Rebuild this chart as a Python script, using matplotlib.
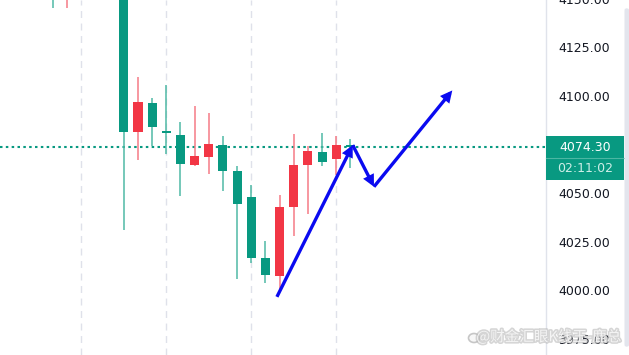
import matplotlib
matplotlib.use("Agg")
import matplotlib.pyplot as plt
import matplotlib.patheffects as pe
from matplotlib.patches import Rectangle, FancyBboxPatch, FancyArrowPatch, Ellipse
import numpy as np

plt.rcParams['font.family'] = ['DejaVu Sans', 'Noto Sans CJK SC']

# ---------------- data ----------------
bar_index = list(range(-5, 17))
opens  = [4170.0, 4150.0, 4160.0, 4168.0, 4162.0, 4165.0, 4082.2, 4097.3, 4082.7, 4080.8, 4065.0,
          4069.5, 4075.4, 4062.0, 4048.8, 4017.2, 4008.1, 4043.4, 4065.0, 4072.1, 4068.3, 4075.0]
highs  = [4175.0, 4168.0, 4172.0, 4178.0, 4170.0, 4168.0, 4110.6, 4099.5, 4106.2, 4087.5, 4095.3,
          4091.8, 4080.3, 4064.6, 4054.7, 4025.9, 4050.0, 4081.3, 4075.1, 4081.8, 4080.2, 4078.4]
lows   = [4145.9, 4146.0, 4152.0, 4158.0, 4155.0, 4031.8, 4068.0, 4074.7, 4070.7, 4049.1, 4064.5,
          4060.3, 4051.7, 4006.4, 4015.0, 4004.4, 4001.0, 4028.8, 4040.2, 4064.5, 4060.0, 4063.8]
closes = [4150.0, 4165.0, 4168.0, 4162.0, 4165.0, 4082.3, 4097.6, 4084.7, 4081.5, 4065.5, 4069.8,
          4075.9, 4062.1, 4045.3, 4017.3, 4008.4, 4043.8, 4065.3, 4072.2, 4066.8, 4075.3, 4074.3]

last_price = 4074.30
countdown = "02:11:02"
y_ticks = [3975, 4000, 4025, 4050, 4100, 4125, 4150]
time_grid = [-3, 3, 9, 15]

# hand-drawn zigzag arrow path (bar index, price)
arrow_x = [10.81, 16.16, 17.66, 23.19]
arrow_y = [3997.4, 4075.4, 4054.0, 4103.5]

watermark = "@财金汇眼K线王-鹿总"

# ---------------- style ----------------
UP = '#f23645'      # red = rising
DOWN = '#089981'    # green = falling
UP_WICK = '#f57b86'
DOWN_WICK = '#4fb9a5'
W, H = 629, 355
DPI = 100
Y_TOP, Y_BOT = 4147.0, 3967.5

fig = plt.figure(figsize=(W / DPI, H / DPI), dpi=DPI)
fig.patch.set_facecolor('white')
ax_right = 545.5
ax = fig.add_axes([0, 0, ax_right / W, 1])
ax.set_facecolor('white')
ax.set_xlim(-8.74, 29.77)
ax.set_ylim(Y_BOT, Y_TOP)

for s in ['top', 'left', 'bottom']:
    ax.spines[s].set_visible(False)
ax.spines['right'].set_color('#e0e3eb')
ax.spines['right'].set_linewidth(1)

ax.yaxis.tick_right()
ax.set_yticks(y_ticks)
ax.set_yticklabels([f"{v:.2f}" for v in y_ticks], fontsize=9, color='#131722')
ax.tick_params(axis='y', length=0, pad=9)
for lab in ax.get_yticklabels():
    lab.set_verticalalignment('center')
ax.set_xticks([])

# vertical time grid
for g in time_grid:
    ax.axvline(g, color='#dfe1ea', lw=1, linestyle=(0, (5, 4)), zorder=0)

# candles
body_w = 0.64
for i, o, h, l, c in zip(bar_index, opens, highs, lows, closes):
    up = c >= o
    col = UP if up else DOWN
    wcol = UP_WICK if up else DOWN_WICK
    ax.vlines(i, l, h, color=wcol, lw=1.1, zorder=2)
    bot = min(o, c)
    ht = max(abs(c - o), 1.0)
    ax.bar(i, ht, bottom=bot, width=body_w, color=col, edgecolor='none', zorder=3)

# last price dotted line
ax.axhline(last_price, color=DOWN, lw=1.5, linestyle=(0, (1.2, 1.6)), zorder=1)

# zigzag arrows
for x0, y0, x1, y1 in zip(arrow_x[:-1], arrow_y[:-1], arrow_x[1:], arrow_y[1:]):
    arr = FancyArrowPatch((x0, y0), (x1, y1), arrowstyle='-|>', mutation_scale=12,
                          color='#0a0af0', lw=2.4, shrinkA=0, shrinkB=0, zorder=5,
                          joinstyle='miter', capstyle='butt')
    ax.add_patch(arr)

# price label box
ppu = H / (Y_TOP - Y_BOT)  # pixels per price unit
half = 11.0 / ppu
trans = matplotlib.transforms.blended_transform_factory(ax.transAxes, ax.transData)
x0f = 546 / ax_right
wf = (623.5 - 546) / ax_right
top_rect = Rectangle((x0f, last_price - half), wf, 2 * half, transform=trans,
                     facecolor=DOWN, edgecolor='none', clip_on=False, zorder=6)
bot_rect = Rectangle((x0f, last_price - 3 * half), wf, 2 * half, transform=trans,
                     facecolor=DOWN, edgecolor='none', clip_on=False, zorder=6)
ax.add_patch(top_rect)
ax.add_patch(bot_rect)
ax.plot([x0f, x0f + wf], [last_price - half] * 2, transform=trans, color='#4bb7a3',
        lw=0.8, clip_on=False, zorder=7)
xc = x0f + wf / 2
ax.text(xc, last_price, f"{last_price:.2f}", transform=trans, ha='center', va='center',
        fontsize=9, color='white', zorder=8, clip_on=False)
ax.text(xc, last_price - 2 * half, countdown, transform=trans, ha='center', va='center',
        fontsize=9, color='#cdeee7', zorder=8, clip_on=False)

# right edge band
band = FancyBboxPatch((624.5 / W, 8 / H), 4.5 / W, 339 / H, boxstyle='round,pad=0,rounding_size=0.006',
                      transform=fig.transFigure, facecolor='#e3e5ed', edgecolor='none')
fig.patches.append(band)

# watermark
fig.text(549 / W, 1 - 337 / H, watermark, ha='center', va='center', fontsize=10.5,
         family=['Noto Sans CJK SC', 'DejaVu Sans'], color='#f6f6f6', alpha=0.95, zorder=10,
         path_effects=[pe.withStroke(linewidth=2.2, foreground='#b9b9b9', alpha=0.6)])
logo = Ellipse((474 / W, 1 - 338 / H), 11 / W, 9 / H, transform=fig.transFigure,
               facecolor='#f6f6f6', edgecolor='#b9b9b9', lw=1.2, alpha=0.8, zorder=10)
fig.patches.append(logo)

fig.savefig('out.png', dpi=DPI)
